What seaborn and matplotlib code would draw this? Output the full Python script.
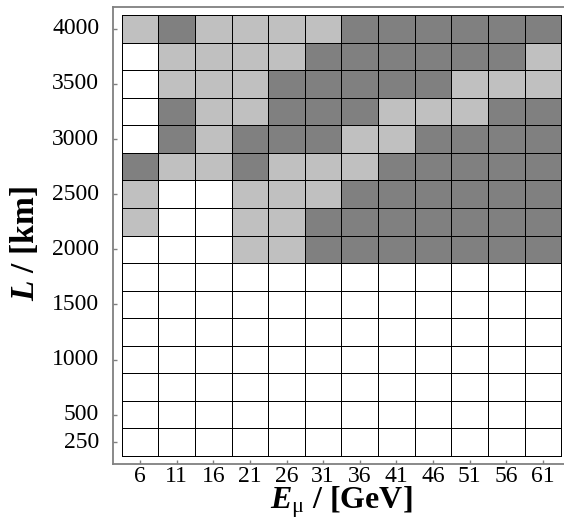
import numpy as np
import pandas as pd
import matplotlib
matplotlib.use("Agg")
import matplotlib.pyplot as plt
import seaborn as sns
from matplotlib.colors import ListedColormap

# 能量 (GeV) 和基线长度 (km)
energies = [6, 11, 16, 21, 26, 31, 36, 41, 46, 51, 56, 61]
baselines = [4000, 3750, 3500, 3250, 3000, 2750, 2500, 2250, 2000,
             1750, 1500, 1250, 1000, 750, 500, 250]

# 0 = 白, 1 = 浅灰, 2 = 深灰
row_4000 = [1, 2, 1, 1, 1, 1, 2, 2, 2, 2, 2, 2]
row_3750 = [0, 1, 1, 1, 1, 2, 2, 2, 2, 2, 2, 1]
row_3500 = [0, 1, 1, 1, 2, 2, 2, 2, 2, 1, 1, 1]
row_3250 = [0, 2, 1, 1, 2, 2, 2, 1, 1, 1, 2, 2]
row_3000 = [0, 2, 1, 2, 2, 2, 1, 1, 2, 2, 2, 2]
row_2750 = [2, 1, 1, 2, 1, 1, 1, 2, 2, 2, 2, 2]
row_2500 = [1, 0, 0, 1, 1, 1, 2, 2, 2, 2, 2, 2]
row_2250 = [1, 0, 0, 1, 1, 2, 2, 2, 2, 2, 2, 2]
row_2000 = [0, 0, 0, 1, 1, 2, 2, 2, 2, 2, 2, 2]
row_low = [0] * 12  # 1750 ... 250

y_tick_labels = [4000, 3500, 3000, 2500, 2000, 1500, 1000, 500, 250]

rows = [row_4000, row_3750, row_3500, row_3250, row_3000, row_2750,
        row_2500, row_2250, row_2000] + [row_low] * 7
df = pd.DataFrame(rows, index=baselines, columns=energies)

plt.rcParams["font.family"] = ["Liberation Serif", "DejaVu Serif"]
plt.rcParams["mathtext.fontset"] = "custom"
plt.rcParams["mathtext.it"] = "Liberation Serif:italic:bold"
plt.rcParams["mathtext.rm"] = "Liberation Serif"
plt.rcParams["mathtext.bf"] = "Liberation Serif:bold"

fig = plt.figure(figsize=(5.64, 5.22), dpi=100)
ax = fig.add_axes([0.2004, 0.1111, 0.81, 0.8755])

cmap = ListedColormap(["#ffffff", "#c0c0c0", "#808080"])
sns.heatmap(df, cmap=cmap, vmin=0, vmax=2, cbar=False,
            linewidths=0.6, linecolor="black", ax=ax)

ax.set_xlim(-0.237, 12.237)
ax.set_ylim(16.29, -0.29)

for s in ax.spines.values():
    s.set_visible(True)
    s.set_color("#808080")
    s.set_linewidth(1.3)

ax.set_xticks(np.arange(len(energies)) + 0.5)
ax.set_xticklabels([str(e) for e in energies], rotation=0)
ypos = [baselines.index(v) + 0.5 for v in y_tick_labels]
ax.set_yticks(ypos)
ax.set_yticklabels([str(v) for v in y_tick_labels], rotation=0)
ax.tick_params(axis="both", direction="in", length=3, color="#808080",
               labelsize=17, width=1)
ax.tick_params(axis="y", pad=10)
ax.tick_params(axis="x", pad=1.5)

ax.set_xlabel(r"$E_{\mathrm{\mu}}$ / [GeV]", fontsize=23, fontweight="bold")
ax.set_ylabel(r"$L$ / [km]", fontsize=24, fontweight="bold")
ax.xaxis.set_label_coords(0.5, -0.045)
ax.yaxis.set_label_coords(-0.158, 0.4825)

fig.savefig("out.png", dpi=100)
